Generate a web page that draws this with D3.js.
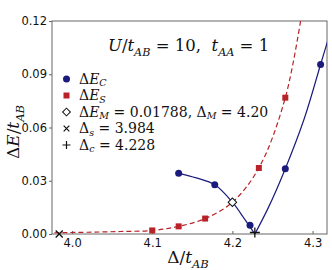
<!DOCTYPE html>
<html>
<head>
<meta charset="utf-8">
<script src="https://cdn.jsdelivr.net/npm/d3@7"></script>
<style>
body { margin: 0; background: #fff; }
.tick text { font-family: "DejaVu Sans", sans-serif; font-size: 11.5px; fill: #111; }
.math { font-family: "DejaVu Serif", "Liberation Serif", serif; fill: #111; white-space: pre; }
</style>
</head>
<body>
<svg id="chart" width="332" height="270"></svg>
<script>
// values
var xTicks = [4.0, 4.1, 4.2, 4.3];
var xTickLabels = ["4.0", "4.1", "4.2", "4.3"];
var yTicks = [0, 0.03, 0.06, 0.09, 0.12];
var yTickLabels = ["0.00", "0.03", "0.06", "0.09", "0.12"];

// Delta E_C (blue dots)
var cX = [4.133, 4.178, 4.222, 4.266, 4.310];
var cY = [0.0342, 0.0277, 0.0049, 0.0368, 0.0955];
// Delta E_S (red squares)
var sX = [4.100, 4.133, 4.166, 4.233, 4.266];
var sY = [0.0020, 0.0043, 0.0087, 0.0372, 0.0768];

// fitted curves, sampled along the drawn lines
var fitSX = [3.978, 4.02, 4.06, 4.10, 4.133, 4.166, 4.20, 4.233, 4.266, 4.29];
var fitSY = [0.0007, 0.0010, 0.0014, 0.0020, 0.0043, 0.0087, 0.0179, 0.0372, 0.0768, 0.134];
var fitCLeftX = [4.133, 4.155, 4.178, 4.20, 4.215, 4.228];
var fitCLeftY = [0.0342, 0.0316, 0.0277, 0.0179, 0.0085, 0.0];
var fitCRightX = [4.228, 4.245, 4.266, 4.29, 4.31, 4.325];
var fitCRightY = [0.0, 0.015, 0.0368, 0.0655, 0.0955, 0.118];

var markM = [4.20, 0.01788];
var markS = [3.984, 0];
var markC = [4.228, 0];

var blue = "#1b1b7e", red = "#b82228";

var svg = d3.select("#chart");
var margin = {top: 21, right: 5, bottom: 36, left: 52};
var W = 332, H = 270;
var x = d3.scaleLinear().domain([3.975, 4.318]).range([margin.left, W - margin.right]);
var y = d3.scaleLinear().domain([0, 0.12]).range([H - margin.bottom, margin.top]);

function zip(a, b) { return a.map(function (v, i) { return [v, b[i]]; }); }

// writes a little math string: parts = [text, style] with style "", "i", "s", "si"
function addMath(sel, parts, size, shift) {
    var sub = 0;
    shift = shift || 0.28;
    parts.forEach(function (p) {
        var t = sel.append("tspan").text(p[0]);
        var isSub = p[1].indexOf("s") >= 0;
        if (p[1].indexOf("i") >= 0) t.attr("font-style", "italic");
        if (isSub) {
            t.attr("font-size", size * 0.68);
            if (!sub) t.attr("dy", size * shift);
            sub = 1;
        } else {
            t.attr("font-size", size);
            if (sub) t.attr("dy", -size * shift);
            sub = 0;
        }
    });
    return sel;
}

svg.append("defs").append("clipPath").attr("id", "clip")
    .append("rect")
    .attr("x", margin.left).attr("y", margin.top)
    .attr("width", W - margin.left - margin.right)
    .attr("height", H - margin.top - margin.bottom);

// axes
svg.append("g")
    .attr("transform", "translate(0," + (H - margin.bottom) + ")")
    .call(d3.axisBottom(x).tickValues(xTicks).tickSize(-3).tickPadding(5)
        .tickFormat(function (d, i) { return xTickLabels[i]; }));
svg.append("g")
    .attr("transform", "translate(" + margin.left + ",0)")
    .call(d3.axisLeft(y).tickValues(yTicks).tickSize(3).tickPadding(2)
        .tickFormat(function (d, i) { return yTickLabels[i]; }));
svg.selectAll(".domain").remove();
svg.selectAll(".tick line").attr("stroke", "#666");

// frame
svg.append("rect")
    .attr("x", margin.left).attr("y", margin.top)
    .attr("width", W - margin.left - margin.right)
    .attr("height", H - margin.top - margin.bottom)
    .attr("fill", "none").attr("stroke", "#666").attr("stroke-width", 1);

// curves
var line = d3.line()
    .x(function (d) { return x(d[0]); })
    .y(function (d) { return y(d[1]); })
    .curve(d3.curveCatmullRom);
var plot = svg.append("g").attr("clip-path", "url(#clip)");
plot.append("path").datum(zip(fitSX, fitSY))
    .attr("d", line).attr("fill", "none")
    .attr("stroke", red).attr("stroke-width", 1.2).attr("stroke-dasharray", "5,3");
[zip(fitCLeftX, fitCLeftY), zip(fitCRightX, fitCRightY)].forEach(function (d) {
    plot.append("path").datum(d)
        .attr("d", line).attr("fill", "none")
        .attr("stroke", blue).attr("stroke-width", 1.2);
});

// points
svg.selectAll(".sq").data(zip(sX, sY)).enter().append("rect")
    .attr("class", "sq")
    .attr("x", function (d) { return x(d[0]) - 3; })
    .attr("y", function (d) { return y(d[1]) - 3; })
    .attr("width", 6).attr("height", 6).attr("fill", red);
svg.selectAll(".dot").data(zip(cX, cY)).enter().append("circle")
    .attr("class", "dot")
    .attr("cx", function (d) { return x(d[0]); })
    .attr("cy", function (d) { return y(d[1]); })
    .attr("r", 3.5).attr("fill", blue);

var sym = d3.symbol();
svg.append("path")
    .attr("transform", "translate(" + x(markM[0]) + "," + y(markM[1]) + ") rotate(45)")
    .attr("d", sym.type(d3.symbolSquare).size(36)())
    .attr("fill", "#fff").attr("stroke", "#111").attr("stroke-width", 1);
svg.append("path")
    .attr("transform", "translate(" + x(markS[0]) + "," + y(markS[1]) + ") rotate(45)")
    .attr("d", "M-5,0H5M0,-5V5")
    .attr("stroke", "#111").attr("stroke-width", 1.3);
svg.append("path")
    .attr("transform", "translate(" + x(markC[0]) + "," + (y(markC[1]) - 1.5) + ")")
    .attr("d", "M-5,0H5M0,-5V5")
    .attr("stroke", "#111").attr("stroke-width", 1.3);

// legend
var legendLabels = [
    [["Δ", ""], ["E", "i"], ["C", "si"]],
    [["Δ", ""], ["E", "i"], ["S", "si"]],
    [["Δ", ""], ["E", "i"], ["M", "si"], [" = 0.01788, Δ", ""], ["M", "si"], [" = 4.20", ""]],
    [["Δ", ""], ["s", "si"], [" = 3.984", ""]],
    [["Δ", ""], ["c", "si"], [" = 4.228", ""]]
];
var legendMarks = ["dot", "sq", "dia", "x", "plus"];
var lx = 66.5, ly0 = 79, lstep = 16.5;
legendMarks.forEach(function (m, i) {
    var yy = ly0 + i * lstep;
    var g = svg.append("g").attr("transform", "translate(" + lx + "," + yy + ")");
    if (m == "dot") g.append("circle").attr("r", 3.5).attr("fill", blue);
    if (m == "sq") g.append("rect").attr("x", -3).attr("y", -3).attr("width", 6).attr("height", 6).attr("fill", red);
    if (m == "dia") g.append("path").attr("transform", "rotate(45)")
        .attr("d", sym.type(d3.symbolSquare).size(30)())
        .attr("fill", "#fff").attr("stroke", "#111").attr("stroke-width", 1);
    if (m == "x") g.append("path").attr("transform", "rotate(45)")
        .attr("d", "M-4,0H4M0,-4V4").attr("stroke", "#111").attr("stroke-width", 1.2);
    if (m == "plus") g.append("path")
        .attr("d", "M-4,0H4M0,-4V4").attr("stroke", "#111").attr("stroke-width", 1.2);
    addMath(svg.append("text").attr("class", "math")
        .attr("x", lx + 12.5).attr("y", yy + 4.5), legendLabels[i], 14, 0.2);
});

// title
addMath(svg.append("text").attr("class", "math").attr("x", 108).attr("y", 51),
    [["U", "i"], ["/", ""], ["t", "i"], ["AB", "si"], [" = 10,\u00a0\u00a0", ""], ["t", "i"], ["AA", "si"], [" = 1", ""]], 16.5);

// axis titles
addMath(svg.append("text").attr("class", "math").attr("text-anchor", "middle")
    .attr("x", 188).attr("y", 263),
    [["Δ", ""], ["/", ""], ["t", "i"], ["AB", "si"]], 17);
addMath(svg.append("text").attr("class", "math").attr("text-anchor", "middle")
    .attr("transform", "translate(19,132) rotate(-90)"),
    [["Δ", ""], ["E", "i"], ["/", ""], ["t", "i"], ["AB", "si"]], 17);
</script>
</body>
</html>
